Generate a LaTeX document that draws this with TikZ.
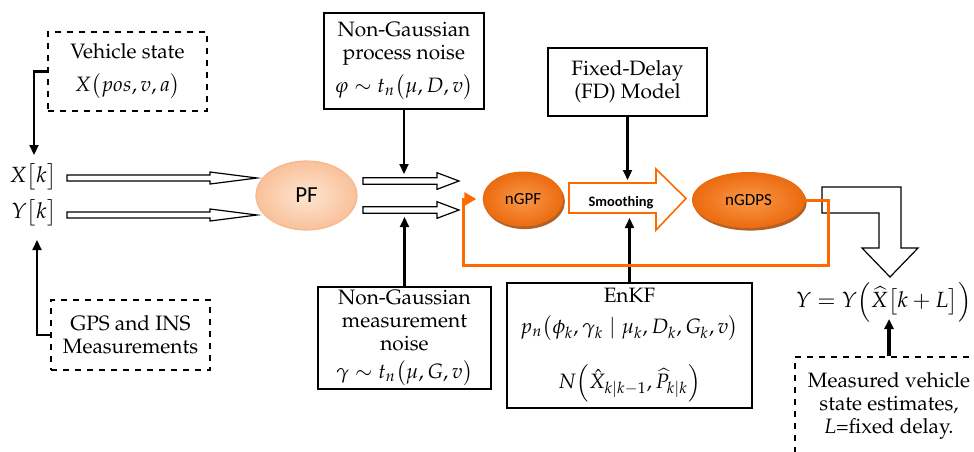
\documentclass[tikz,border=0pt]{standalone}
\usepackage{mathpazo}
\usepackage[no-math]{fontspec}
\newfontfamily\calibri{Carlito}
\usetikzlibrary{arrows.meta,shadows,shapes.geometric}
\definecolor{pfin}{HTML}{FDE5D2}
\definecolor{pfout}{HTML}{F9C19A}
\definecolor{pfdraw}{HTML}{F7B88C}
\definecolor{orin}{HTML}{F9984A}
\definecolor{orout}{HTML}{EC6A0E}
\definecolor{orline}{HTML}{FF6A00}
\definecolor{orshadow}{HTML}{A9500F}
\newcommand{\pala}{\fontencoding{OT1}\fontfamily{ppl}\selectfont}
\newcommand{\hollowarr}[6]{% x1, x2, y, shaft half, head half, head start
  \draw[hollow] (#1,#3-#4) -- (#6,#3-#4) -- (#6,#3-#5) -- (#2,#3) -- (#6,#3+#5) -- (#6,#3+#4) -- (#1,#3+#4) -- cycle;}
\tikzset{
  box/.style={draw, line width=0.6pt, align=center, inner sep=1pt},
  dbox/.style={box, dashed},
  arr/.style={line width=1.1pt, -{Triangle[length=5pt,width=4.5pt]}},
  hollow/.style={draw, line width=0.6pt, fill=white},
  pfstyle/.style={ellipse, draw=pfdraw, line width=0.6pt, inner sep=0pt,
    inner color=pfin, outer color=pfout, font=\calibri\fontsize{11.5}{12}\selectfont},
  ong/.style={ellipse, inner sep=0pt, inner color=orin, outer color=orout,
    drop shadow={shadow xshift=0.8pt, shadow yshift=-1.3pt, fill=orshadow, opacity=0.9},
    font=\calibri\fontsize{8.5}{9}\selectfont}
}
\begin{document}
\begin{tikzpicture}[x=0.5pt,y=-0.5pt,font=\pala\fontsize{10.4}{11.5}\selectfont]
\useasboundingbox (0,0) rectangle (974,451);
\clip (0,0) rectangle (974,451);

% hollow arrows
\hollowarr{67}{257}{178}{3}{6}{210}
\hollowarr{67}{257}{215}{3}{6}{210}
\hollowarr{363}{459}{181}{3.3}{8.3}{437}
\hollowarr{363}{459}{210}{3.3}{8.3}{437}
\draw[hollow] (822,187) -- (901,187) -- (901,248) -- (918,248) -- (890,277) -- (862,248) -- (879,248) -- (879,213) -- (822,213) -- cycle;
\draw[draw=orline, line width=0.8pt, fill=white] (569,183) -- (656,183) -- (656,169) -- (686,198.5) -- (656,230) -- (656,213) -- (569,213) -- cycle;

% nodes
\node[dbox, minimum width=79.5pt, minimum height=39.5pt] (veh) at (127.5,71.5) {Vehicle state\\[5pt] $X\bigl(pos,v,a\bigr)$};
\node[dbox, minimum width=79.5pt, minimum height=35pt] (gps) at (130.5,335) {GPS and INS\\ Measurements};
\node[font=\fontsize{11}{12}\selectfont] (xk) at (33,177) {$X\bigl[k\bigr]$};
\node[font=\fontsize{11}{12}\selectfont] (yk) at (34,213) {$Y\bigl[k\bigr]$};
\node[pfstyle, minimum width=50.5pt, minimum height=34.5pt] (pf) at (306.5,195.5) {PF};
\node[box, minimum width=80pt, minimum height=48pt] (proc) at (404,61) {Non-Gaussian\\ process noise\\[3.5pt] $\varphi\sim t_n\bigl(\mu,D,v\bigr)$};
\node[box, minimum width=86.5pt, minimum height=51pt, inner sep=0.5pt] (mnoise) at (404.5,338) {Non-Gaussian\\ measurement\\ noise\\[2.5pt] $\gamma\sim t_n\bigl(\mu,G,v\bigr)$};
\node[ong, minimum width=40.3pt, minimum height=27.5pt] (ngpf) at (523,199) {nGPF};
\node[ong, minimum width=56.5pt, minimum height=28pt] (ngdps) at (748.5,200) {nGDPS};
\node[font=\calibri\bfseries\fontsize{7.2}{8}\selectfont] (smooth) at (621,203) {Smoothing};
\node[box, minimum width=79.5pt, minimum height=34pt] (fd) at (627.5,82) {Fixed-Delay\\ (FD) Model};
\node[box, minimum width=122.5pt, minimum height=62.5pt] (enkf) at (629.5,345.5) {EnKF\\[4pt] $p_n\bigl(\phi_k,\gamma_k\mid\mu_k,D_k,G_k,v\bigr)$\\[10pt] $N\Bigl(\hat{X}_{k|k-1},\widehat{P}_{k|k}\Bigr)$};
\node[font=\fontsize{11}{12}\selectfont] (yout) at (884,302) {$Y = Y\Bigl(\widehat{X}\bigl[k+L\bigr]\Bigr)$};
\node[dbox, minimum width=94pt, minimum height=49pt] (meas) at (889,406) {Measured vehicle\\ state estimates,\\ \textit{L}=fixed delay.};

% free ends
\coordinate (c1) at (34,155);
\coordinate (c2) at (37,240);
\coordinate (c3) at (404,174);
\coordinate (c4) at (404.5,217);
\coordinate (c5) at (627.5,180);
\coordinate (c6) at (629.5,218);
\coordinate (c7) at (889,319);
\coordinate (lr) at (828,265);
\coordinate (ll) at (463,265);

% connectors
\draw[arr] (veh.west) -| (c1);
\draw[arr] (gps.west) -| (c2);
\draw[arr] (proc.south) -- (c3);
\draw[arr] (mnoise.north) -- (c4);
\draw[arr] (fd.south) -- (c5);
\draw[arr] (enkf.north) -- (c6);
\draw[arr, line width=1.6pt] (meas.north) -- (c7);
\draw[orline, line width=1.5pt, shorten >=3pt, -{Triangle[length=6pt,width=6.5pt]}]
  (ngdps.east) -| (lr) -- (ll) |- (ngpf.west);
\end{tikzpicture}
\end{document}
